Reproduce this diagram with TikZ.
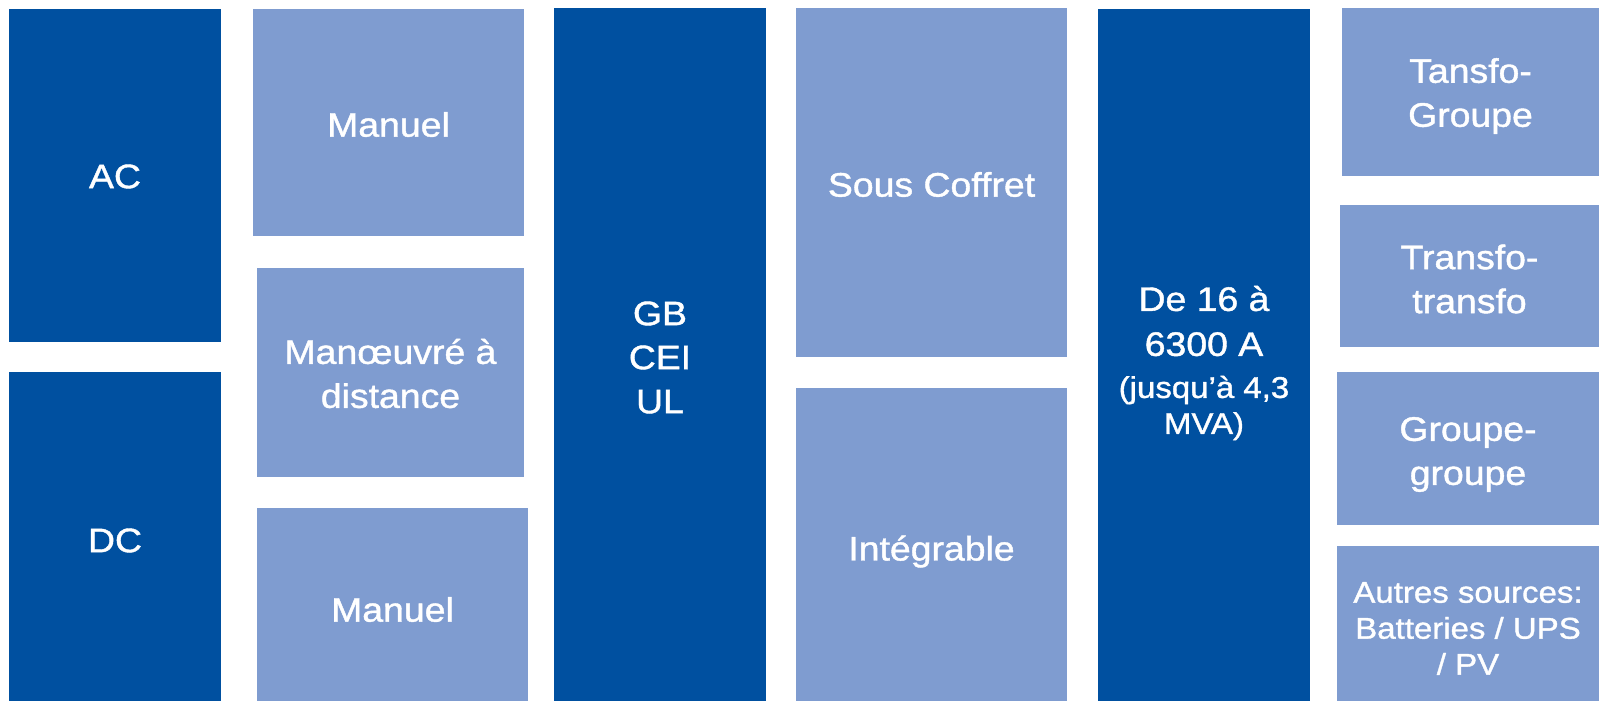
\documentclass[tikz,border=0pt]{standalone}
\usepackage{fontspec}
\setmainfont{Liberation Sans}[FakeStretch=1.1,FakeBold=1.2]
\definecolor{darkblue}{HTML}{0050A0}
\definecolor{lightblue}{HTML}{7F9CD0}
\newcommand{\bigtxt}{\fontsize{34}{44}\selectfont}
\newcommand{\smalltxt}{\fontsize{30}{36}\selectfont}
\tikzset{
  boxbase/.style={draw=none, inner sep=0pt, outer sep=0pt},
  darkbox/.style={boxbase, fill=darkblue},
  lightbox/.style={boxbase, fill=lightblue},
  label text/.style={inner sep=0pt, text=white, align=center, font=\bigtxt},
  small text/.style={label text, font=\smalltxt},
}
% \bx{name}{style}{x1}{y1}{x2}{y2}{text style}{dy}{text}
\newcommand{\bx}[9]{%
  \node[#2, minimum width={(#5-#3)*1pt}, minimum height={(#6-#4)*1pt}] (#1) at ({(#3+#5)/2},{(#4+#6)/2}) {};
  \node[#7] (#1-t) at ([shift={(0,#8)}]#1.center) {#9};}
\begin{document}
\begin{tikzpicture}[x=1pt,y=-1pt]
\useasboundingbox (0,0) rectangle (1599,701);
\bx{ac}{darkbox}{9}{9}{221}{342}{label text}{1}{AC}
\bx{dc}{darkbox}{9}{372}{221}{701}{label text}{4}{DC}
\bx{manuelA}{lightbox}{253}{9}{524}{236}{label text}{2}{Manuel}
\bx{distance}{lightbox}{257}{268}{524}{477}{label text}{1}{Manœuvré à\\distance}
\bx{manuelB}{lightbox}{257}{508}{528}{701}{label text}{5}{Manuel}
\bx{norms}{darkbox}{554}{8}{766}{701}{label text}{3}{GB\\CEI\\UL}
\bx{coffret}{lightbox}{796}{8}{1067}{357}{label text}{2}{Sous Coffret}
\bx{integ}{lightbox}{796}{388}{1067}{701}{label text}{7}{Intégrable}
\bx{range}{darkbox}{1098}{9}{1310}{701}{label text}{8}{De 16 à\\[1pt]6300 A\\[-2pt]\smalltxt (jusqu’à 4,3\\[-8pt]\smalltxt MVA)}
\bx{tg}{lightbox}{1342}{8}{1599}{176}{label text}{4}{Tansfo-\\Groupe}
\bx{tt}{lightbox}{1340}{205}{1599}{347}{label text}{3}{Transfo-\\transfo}
\bx{gg}{lightbox}{1337}{372}{1599}{525}{label text}{6}{Groupe-\\groupe}
\bx{autres}{lightbox}{1337}{546}{1599}{701}{small text}{5}{Autres sources:\\Batteries / UPS\\/ PV}
\end{tikzpicture}
\end{document}
